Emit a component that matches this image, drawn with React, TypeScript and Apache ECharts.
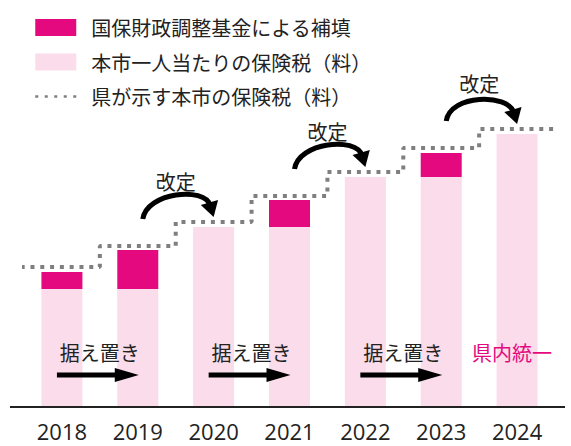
import React, { useEffect, useRef } from "react";
import * as echarts from "echarts";

// ---- data ----
const years = ["2018", "2019", "2020", "2021", "2022", "2023", "2024"];
const baseTax = [29.5, 29.5, 45, 45, 57.5, 57.5, 68.25]; // 本市一人当たりの保険税（料）
const fundSupplement = [4.25, 9.75, 0, 6.75, 0, 6, 0]; // 国保財政調整基金による補填
const prefStandard = [35, 40.25, 46.25, 52.75, 58.75, 64.75, 69.5]; // 県が示す本市の保険税（料）
const revisionFrom = [1, 3, 5]; // 改定 arrows: from year index to next
const holdFrom = [0, 2, 4]; // 据え置き arrows: from year index to next
const unifiedAt = [6]; // 県内統一

const LEGEND_FUND = "国保財政調整基金による補填";
const LEGEND_BASE = "本市一人当たりの保険税（料）";
const LEGEND_PREF = "県が示す本市の保険税（料）";
const LABEL_REVISION = "改定";
const LABEL_HOLD = "据え置き";
const LABEL_UNIFIED = "県内統一";

const JP = '"Noto Sans CJK JP", "Noto Sans", sans-serif';
const NUM = '"Open Sans", sans-serif';
const MAGENTA = "#E4097F";
const PINK = "#FADCEA";
const TEXT = "#222222";
const GRAY = "#7f7f7f";

// step line: starts left of first year, changes half way between years, ends right of last
const stepLine: number[][] = [
  [-0.673, prefStandard[0]],
  ...prefStandard.slice(1).map((v, i) => [i + 0.5, v]),
  [years.length - 1 + 0.61, prefStandard[prefStandard.length - 1]],
];

export default function App() {
  const ref = useRef<HTMLDivElement>(null);
  useEffect(() => {
    if (!ref.current) return;
    const chart = echarts.init(ref.current, undefined, { renderer: "svg" });
    const option: any = {
      animation: false,
      grid: { left: 24, right: 16, top: 7, bottom: 39 },
      legend: {
        orient: "vertical",
        left: 29,
        top: 12.5,
        itemWidth: 41,
        itemHeight: 17,
        itemGap: 14.5,
        selectedMode: false,
        textStyle: { fontSize: 20, color: TEXT, fontFamily: JP, padding: [0, 0, 0, 10] },
        data: [
          { name: LEGEND_FUND, icon: "rect" },
          { name: LEGEND_BASE, icon: "rect" },
          {
            name: LEGEND_PREF,
            itemStyle: { opacity: 0 },
            lineStyle: { width: 2.5, type: [3, 6.5], color: GRAY },
          },
        ],
      },
      xAxis: [
        {
          type: "category",
          data: years,
          axisLine: { show: false },
          axisTick: { show: false },
          axisLabel: { fontSize: 22, color: TEXT, fontFamily: NUM, margin: 13 },
        },
        { type: "value", show: false, min: -0.5, max: years.length - 0.5 },
      ],
      yAxis: { type: "value", show: false, min: 0, max: 100 },
      graphic: [
        {
          type: "line",
          shape: { x1: 10, y1: 407, x2: 565, y2: 407 },
          style: { stroke: TEXT, lineWidth: 2 },
          z: 10,
        },
      ],
      series: [
        {
          name: LEGEND_BASE,
          type: "bar",
          stack: "tax",
          barWidth: 41,
          data: baseTax,
          itemStyle: { color: PINK },
        },
        {
          name: LEGEND_FUND,
          type: "bar",
          stack: "tax",
          barWidth: 41,
          data: fundSupplement,
          itemStyle: { color: MAGENTA },
        },
        {
          name: LEGEND_PREF,
          type: "line",
          xAxisIndex: 1,
          step: "end",
          clip: false,
          symbol: "none",
          showSymbol: false,
          data: stepLine,
          itemStyle: { color: GRAY },
          lineStyle: { color: GRAY, width: 4, type: [4, 5.8], cap: "butt" },
          z: 3,
        },
        {
          name: "revision",
          type: "custom",
          clip: false,
          z: 5,
          data: revisionFrom.map((i) => [years[i], prefStandard[i], prefStandard[i + 1]]),
          renderItem: (_p: any, api: any) => {
            const i = api.value(0);
            const a = api.coord([i, api.value(1)]);
            const b = api.coord([i + 1, api.value(2)]);
            const S = [a[0] + 5, a[1] - 27];
            const T = [b[0], b[1] - 5];
            const d = [0.28, 0.96];
            const E = [T[0] - 12 * d[0], T[1] - 12 * d[1]];
            const cp1 = [S[0] + 4, S[1] - 27];
            const cp2 = [E[0] - 20 * d[0], E[1] - 20 * d[1]];
            const bc = [T[0] - 15 * d[0], T[1] - 15 * d[1]];
            const p = [d[1], -d[0]];
            const hw = 9;
            return {
              type: "group",
              children: [
                {
                  type: "bezierCurve",
                  shape: { x1: S[0], y1: S[1], x2: E[0], y2: E[1], cpx1: cp1[0], cpy1: cp1[1], cpx2: cp2[0], cpy2: cp2[1] },
                  style: { stroke: "#000", lineWidth: 5, fill: null },
                },
                {
                  type: "polygon",
                  shape: {
                    points: [
                      T,
                      [bc[0] + hw * p[0], bc[1] + hw * p[1]],
                      [bc[0] - hw * p[0], bc[1] - hw * p[1]],
                    ],
                  },
                  style: { fill: "#000" },
                },
                {
                  type: "text",
                  x: S[0] + 33,
                  y: S[1] - 37.5,
                  style: { text: LABEL_REVISION, fontSize: 20, fill: TEXT, fontFamily: JP, align: "center", verticalAlign: "middle" },
                },
              ],
            };
          },
        },
        {
          name: "hold",
          type: "custom",
          clip: false,
          z: 5,
          data: holdFrom.map((i) => [years[i], 0]),
          renderItem: (_p: any, api: any) => {
            const i = api.value(0);
            const c0 = api.coord([i, 0]);
            const c1 = api.coord([i + 1, 0]);
            const y = c0[1] - 32;
            const x0 = c0[0] - 5;
            const x1 = c1[0] + 1;
            const hl = 24, hh = 7, sw = 2.6;
            return {
              type: "group",
              children: [
                {
                  type: "polygon",
                  shape: {
                    points: [
                      [x0, y - sw], [x1 - hl, y - sw], [x1 - hl, y - hh], [x1, y],
                      [x1 - hl, y + hh], [x1 - hl, y + sw], [x0, y + sw],
                    ],
                  },
                  style: { fill: "#000" },
                },
                {
                  type: "text",
                  x: (c0[0] + c1[0]) / 2,
                  y: c0[1] - 55,
                  style: { text: LABEL_HOLD, fontSize: 20, fill: TEXT, fontFamily: JP, align: "center", verticalAlign: "middle" },
                },
              ],
            };
          },
        },
        {
          name: "unified",
          type: "custom",
          clip: false,
          z: 5,
          data: unifiedAt.map((i) => [years[i], 0]),
          renderItem: (_p: any, api: any) => {
            const c = api.coord([api.value(0), 0]);
            return {
              type: "text",
              x: c[0] - 5,
              y: c[1] - 55,
              style: { text: LABEL_UNIFIED, fontSize: 20, fill: MAGENTA, fontFamily: JP, align: "center", verticalAlign: "middle" },
            };
          },
        },
      ],
    };
    chart.setOption(option);
    return () => chart.dispose();
  }, []);
  return (
    <div
      ref={ref}
      style={{ position: "fixed", left: 0, top: 0, width: 571, height: 446, background: "#fff" }}
    />
  );
}
